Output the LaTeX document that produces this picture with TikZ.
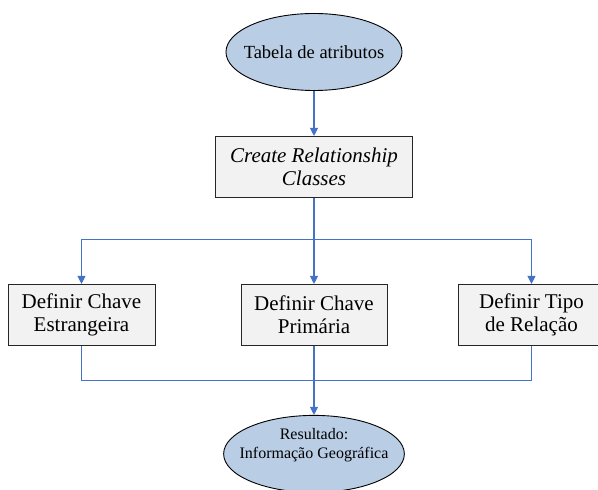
\documentclass[tikz,border=0pt]{standalone}
\usepackage{fontspec}
\setmainfont{Liberation Serif}
\usetikzlibrary{positioning, arrows.meta, shapes.geometric}

\definecolor{flowblue}{HTML}{4472C4}
\definecolor{termfill}{HTML}{B9CDE5}
\definecolor{procfill}{HTML}{F2F2F2}

\tikzset{
    term/.style={ellipse, draw=black, fill=termfill, line width=0.9pt,
        minimum height=77pt, inner ysep=0pt, align=center},
    proc/.style={rectangle, draw=black!85, fill=procfill, line width=1pt,
        minimum height=61pt, inner sep=2pt, align=center,
        font=\fontsize{21}{23}\selectfont},
    link/.style={draw=flowblue, line width=1.1pt},
    flow/.style={link, -{Triangle[length=8pt, width=8pt]}}
}

\begin{document}
\begin{tikzpicture}[x=1pt, y=1pt]
        \useasboundingbox (0,0) rectangle (598,490);
        \clip (0,0) rectangle (598,490);

        \node[term, inner xsep=-8pt, font=\fontsize{18.5}{21}\selectfont] (attr) at (314,438) {Tabela de atributos};
        \node[proc, minimum width=197pt, below=45pt of attr, font=\fontsize{21}{23}\selectfont\itshape] (rel) {Create Relationship\\Classes};

        \node[proc, minimum width=146pt, below=86pt of rel] (pk) {Definir Chave\\Primária};
        \node[proc, minimum width=147pt, left=85pt of pk] (fk) {Definir Chave\\Estrangeira};
        \node[proc, minimum width=147pt, right=70pt of pk] (rt) {Definir Tipo\\de Relação};

        \node[term, inner xsep=-10.5pt, below=69pt of pk, font=\fontsize{16}{18.5}\selectfont] (res) {Resultado:\\Informação Geográfica\\[2pt]};

        \coordinate[below=42pt of rel.south] (split);
        \coordinate[below=35pt of pk.south] (join);

        \draw[flow] (attr) -- (rel);
        \draw[flow] (rel) -- (pk);
        \draw[flow] (split) -| (fk);
        \draw[flow] (split) -| (rt);
        \draw[link] (fk) |- (join) -| (rt);
        \draw[flow] (pk) -- (res);
    \end{tikzpicture}
\end{document}
